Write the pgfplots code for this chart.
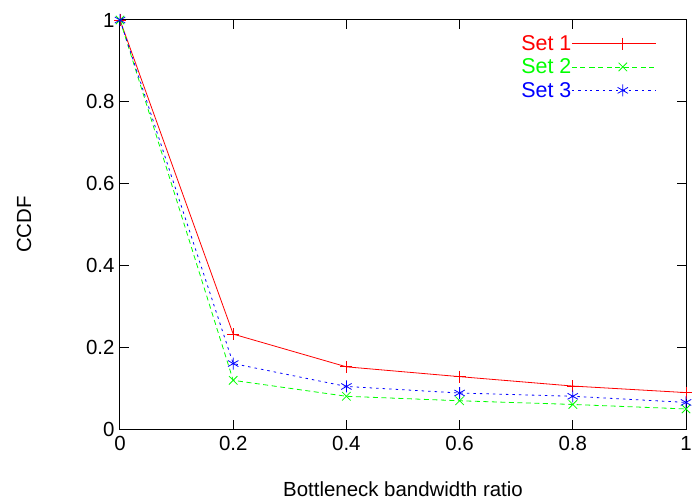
\documentclass[border=0pt]{standalone}
\usepackage{fontspec}
\setmainfont{Liberation Sans}
\usepackage{pgfplots}
\pgfplotsset{compat=1.18}
\begin{document}
\begin{tikzpicture}
\useasboundingbox (-120bp,-74bp) rectangle (576bp,429bp);
\begin{axis}[
  at={(0,0)}, anchor=south west,
  scale only axis, width=566bp, height=409bp,
  xmin=0, xmax=1, ymin=0, ymax=1,
  xtick={0,0.2,0.4,0.6,0.8,1}, ytick={0,0.2,0.4,0.6,0.8,1},
  tick align=inside, major tick length=9bp,
  axis line style={line width=1bp},
  every tick/.style={black, line width=1bp},
  /pgf/number format/assume math mode=true,
  tick label style={font=\fontsize{20.5}{24}\selectfont},
  label style={font=\fontsize{20.5}{24}\selectfont},
  xticklabel style={yshift=-4bp},
  yticklabel style={xshift=-2bp},
  xlabel={Bottleneck bandwidth ratio},
  ylabel={CCDF},
  xlabel style={at={(axis description cs:0.5,0)}, anchor=center, yshift=-60bp},
  ylabel style={at={(axis description cs:-0.1696,0.5)}, anchor=center},
  clip=false,
  legend style={draw=none, fill=none, at={(rel axis cs:0.953,0.968)}, anchor=north east,
    font=\fontsize{21.5}{24}\selectfont, row sep=7bp,
    nodes={inner sep=0pt}},
  legend cell align=right,
  legend plot pos=right,
  legend image code/.code={
    \path (0bp,0bp) -- (18bp,0bp);
    \draw[#1] (18bp,0bp) -- (84bp,0bp);
    \draw[#1, solid] plot coordinates {(51bp,0bp)};
  },
]
\addplot[red, line width=0.8bp, mark=+, mark size=6bp, mark options={solid}]
  coordinates {(0,1) (0.2,0.232) (0.4,0.152) (0.6,0.128) (0.8,0.105) (1,0.089)};
\addlegendentry{\textcolor{red}{Set 1}}
\addplot[green, line width=0.8bp, dash pattern=on 5bp off 3.5bp, mark=x, mark size=6bp, mark options={solid}]
  coordinates {(0,1) (0.2,0.119) (0.4,0.080) (0.6,0.069) (0.8,0.060) (1,0.049)};
\addlegendentry{\textcolor{green}{Set 2}}
\addplot[blue, line width=0.8bp, dash pattern=on 2.5bp off 4bp, mark=asterisk, mark size=6bp, mark options={solid}]
  coordinates {(0,1) (0.2,0.160) (0.4,0.104) (0.6,0.088) (0.8,0.080) (1,0.065)};
\addlegendentry{\textcolor{blue}{Set 3}}
\end{axis}
\end{tikzpicture}
\end{document}
